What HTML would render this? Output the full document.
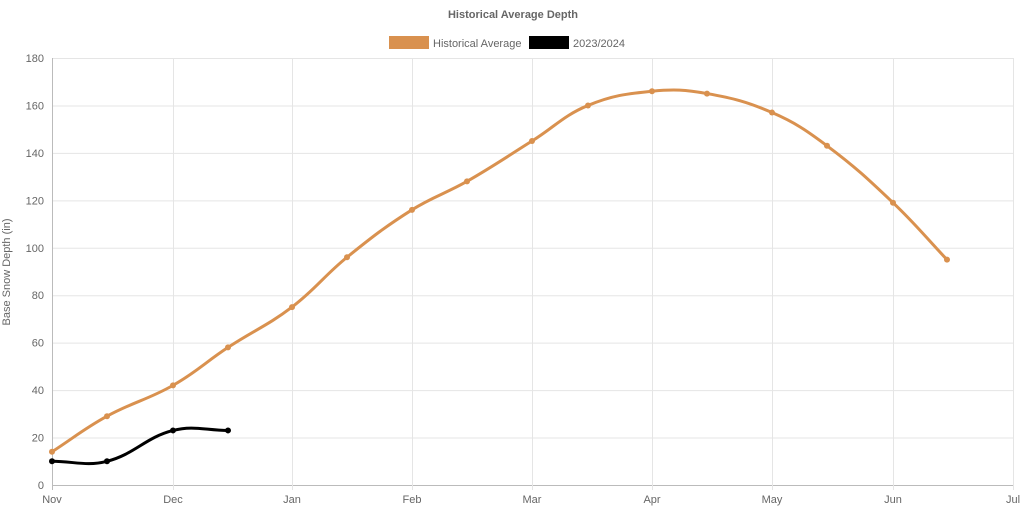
<!DOCTYPE html>
<html><head><meta charset="utf-8"><style>
html,body{margin:0;padding:0;background:#fff;}
svg text{font-family:"Liberation Sans",Arial,sans-serif;}
</style></head><body>
<svg id="c" width="1023" height="511" xmlns="http://www.w3.org/2000/svg">
<text x="513" y="18" text-anchor="middle" font-size="11" font-weight="bold" fill="#666">Historical Average Depth</text>
<rect x="389" y="36" width="40" height="13" fill="#d9914f"/>
<text x="433" y="47" font-size="11" fill="#666">Historical Average</text>
<rect x="529" y="36" width="40" height="13" fill="#000"/>
<text x="573" y="47" font-size="11" fill="#666">2023/2024</text>
<text transform="translate(10,272) rotate(-90)" text-anchor="middle" font-size="11" fill="#666">Base Snow Depth (in)</text>
<g id="grid"></g>
<g id="series"></g>
</svg>
<script>
var svg=document.getElementById('grid'),ser=document.getElementById('series'),NS='http://www.w3.org/2000/svg';
function el(p,t,a,txt){var e=document.createElementNS(NS,t);for(var k in a)e.setAttribute(k,a[k]);if(txt!=null)e.textContent=txt;p.appendChild(e);return e;}
var x0=52,x1=1013,y0=485,y1=58;
function Y(v){return y0-(v/180)*(y0-y1);}
var months=['Nov','Dec','Jan','Feb','Mar','Apr','May','Jun','Jul'];
var mx=[52,173,292,412,532,652,772,893,1013];
for(var i=0;i<=9;i++){var v=i*20,y=Y(v)+0.5;el(svg,'line',{x1:x0,x2:x1,y1:y,y2:y,stroke:i==0?'#bbb':'#e5e5e5','stroke-width':1});
el(svg,'text',{x:x0-8,y:Y(v)+4,'text-anchor':'end','font-size':11,fill:'#666'},String(v));}
mx.forEach(function(x,i){el(svg,'line',{x1:x+0.5,x2:x+0.5,y1:y1,y2:y0+5,stroke:i==0?'#bbb':'#e5e5e5'});
el(svg,'text',{x:x,y:y0+18,'text-anchor':'middle','font-size':11,fill:'#666'},months[i]);});
var hx=[52,107,173,228,292,347,412,467,532,588,652,707,772,827,893,947];
var hv=[14,29,42,58,75,96,116,128,145,160,166,165,157,143,119,95];
function pts(xs,vs){return xs.map(function(x,i){return [x,Y(vs[i])];});}
function path(p){var t=0.4,d='M'+p[0][0]+','+p[0][1];
var cps=p.map(function(c,i){var pr=p[Math.max(i-1,0)],nx=p[Math.min(i+1,p.length-1)];
var d01=Math.hypot(c[0]-pr[0],c[1]-pr[1]),d12=Math.hypot(nx[0]-c[0],nx[1]-c[1]);
var fa=d01/(d01+d12)||0,fb=d12/(d01+d12)||0;fa*=t;fb*=t;
return {p:[c[0]-fa*(nx[0]-pr[0]),c[1]-fa*(nx[1]-pr[1])],n:[c[0]+fb*(nx[0]-pr[0]),c[1]+fb*(nx[1]-pr[1])]};});
for(var i=1;i<p.length;i++){d+=' C'+cps[i-1].n[0]+','+cps[i-1].n[1]+' '+cps[i].p[0]+','+cps[i].p[1]+' '+p[i][0]+','+p[i][1];}
return d;}
function draw(p,col){el(ser,'path',{d:path(p),fill:'none',stroke:col,'stroke-width':3});
p.forEach(function(q){el(ser,'circle',{cx:q[0],cy:q[1],r:3,fill:col});});}
draw(pts(hx,hv),'#d9914f');
draw(pts([52,107,173,228],[10,10,23,23]),'#000');
</script>
</body></html>
